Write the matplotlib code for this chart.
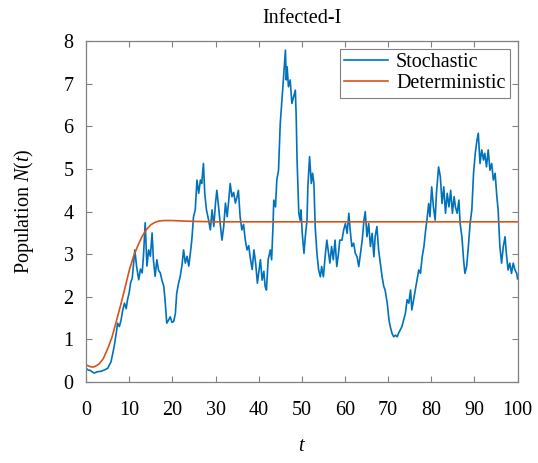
import matplotlib.pyplot as plt

# stochastic path
t_stoch = [0.0, 0.5, 1.0, 1.5, 1.9, 2.6, 3.4, 4.2, 5.0, 5.8, 6.5, 7.0, 7.3, 7.7, 8.1, 8.5, 8.9, 9.3,
           9.6, 10.0, 10.3, 10.7, 11.1, 11.3, 11.7, 12.2, 12.6, 13.0, 13.3, 13.7, 14.1, 14.5, 14.9,
           15.3, 15.6, 16.0, 16.4, 16.8, 17.2, 17.6, 18.0, 18.3, 18.7, 19.1, 19.5, 19.9, 20.3, 20.7,
           21.0, 21.4, 21.8, 22.2, 22.6, 23.0, 23.4, 23.8, 24.2, 24.5, 24.9, 25.3, 25.7, 26.1, 26.5,
           26.8, 27.2, 27.5, 27.9, 28.4, 28.8, 29.2, 29.6, 30.0, 30.3, 30.7, 31.1, 31.5, 31.9, 32.3,
           32.7, 33.0, 33.4, 33.8, 34.2, 34.6, 35.0, 35.3, 35.7, 36.1, 36.5, 36.9, 37.3, 37.7, 38.0,
           38.5, 38.9, 39.3, 39.7, 40.0, 40.4, 40.8, 41.2, 41.5, 41.8, 42.2, 42.7, 43.0, 43.3, 43.5,
           43.9, 44.2, 44.6, 45.0, 45.4, 45.8, 46.2, 46.4, 46.6, 46.9, 47.3, 47.7, 48.1, 48.5, 48.7,
           48.9, 49.3, 49.6, 49.8, 50.1, 50.5, 50.8, 51.2, 51.4, 51.8, 52.2, 52.5, 52.8, 53.1, 53.5,
           53.9, 54.3, 54.6, 55.0, 55.4, 55.8, 56.2, 56.5, 56.9, 57.3, 57.7, 58.1, 58.5, 58.8, 59.3,
           59.7, 60.1, 60.5, 60.9, 61.2, 61.6, 62.0, 62.4, 62.8, 63.2, 63.6, 64.0, 64.4, 64.7, 65.1,
           65.5, 65.9, 66.3, 66.7, 67.0, 67.4, 67.8, 68.2, 68.6, 69.0, 69.3, 69.8, 70.2, 70.5, 70.9,
           71.3, 71.7, 72.1, 72.4, 72.8, 73.2, 73.6, 74.0, 74.4, 74.8, 75.2, 75.5, 75.9, 76.3, 76.7,
           77.1, 77.5, 77.9, 78.3, 78.7, 79.0, 79.4, 79.7, 80.1, 80.5, 80.9, 81.2, 81.7, 82.1, 82.5,
           82.9, 83.3, 83.7, 84.1, 84.5, 84.9, 85.3, 85.6, 86.0, 86.4, 86.7, 87.1, 87.5, 87.8, 88.2,
           88.6, 89.0, 89.4, 89.8, 90.2, 90.6, 90.9, 91.3, 91.7, 92.1, 92.4, 92.8, 93.2, 93.6, 94.0,
           94.4, 94.8, 95.2, 95.5, 95.9, 96.3, 96.7, 97.1, 97.4, 97.8, 98.2, 98.6, 99.0, 99.4, 99.8,
           100.0]
n_stoch = [0.32, 0.28, 0.27, 0.23, 0.21, 0.24, 0.25, 0.28, 0.32, 0.48, 0.83, 1.15, 1.38, 1.30, 1.45,
           1.69, 1.85, 1.72, 1.93, 2.10, 2.32, 2.44, 2.87, 3.10, 2.72, 2.40, 2.65, 2.56, 2.95, 3.74,
           2.72, 3.10, 2.95, 3.50, 2.87, 2.48, 2.87, 2.62, 2.56, 2.38, 2.25, 1.93, 1.38, 1.45, 1.53,
           1.40, 1.42, 1.61, 2.08, 2.30, 2.47, 2.72, 3.10, 2.79, 2.95, 2.72, 3.05, 3.33, 3.88, 4.04,
           4.74, 4.43, 4.74, 4.66, 5.13, 4.43, 4.04, 3.80, 3.57, 4.04, 3.65, 4.20, 4.50, 4.12, 3.70,
           3.33, 3.65, 4.20, 3.88, 4.20, 4.66, 4.35, 4.45, 4.20, 4.35, 4.50, 3.88, 3.57, 3.70, 3.33,
           3.10, 3.20, 2.95, 2.64, 3.10, 2.79, 2.32, 2.55, 2.87, 2.39, 2.60, 2.24, 2.16, 2.87, 3.10,
           2.87, 3.60, 4.27, 4.11, 4.74, 4.97, 6.07, 6.62, 7.20, 7.79, 7.09, 7.40, 6.93, 7.09, 6.54,
           6.70, 6.85, 6.23, 5.21, 3.96, 3.80, 4.04, 3.49, 3.02, 3.41, 3.80, 4.58, 5.29, 4.66, 4.90,
           4.66, 3.65, 3.02, 2.63, 2.47, 2.71, 2.47, 2.94, 3.33, 3.02, 2.79, 3.18, 2.87, 3.33, 2.71,
           3.02, 3.33, 3.33, 3.57, 3.72, 3.49, 3.96, 3.57, 3.18, 3.26, 3.02, 2.94, 2.71, 3.02, 3.33,
           3.80, 4.00, 3.41, 3.72, 3.18, 3.49, 2.94, 3.41, 3.65, 3.10, 2.79, 2.47, 2.24, 2.16, 1.85,
           1.46, 1.30, 1.14, 1.06, 1.10, 1.06, 1.14, 1.22, 1.30, 1.46, 1.61, 1.93, 1.85, 2.16, 1.69,
           1.93, 2.16, 2.39, 2.63, 2.55, 2.94, 3.18, 3.57, 3.80, 4.19, 3.88, 4.58, 4.11, 3.80, 4.43,
           5.05, 4.82, 4.19, 4.58, 3.96, 4.43, 4.11, 4.50, 3.96, 4.35, 4.11, 3.96, 4.27, 3.72, 3.41,
           2.86, 2.55, 2.71, 3.18, 3.72, 4.04, 4.90, 5.37, 5.68, 5.84, 5.13, 5.45, 5.21, 5.37, 5.05,
           5.45, 4.97, 5.13, 4.74, 4.90, 4.35, 4.04, 3.18, 2.79, 3.18, 3.41, 3.02, 2.63, 2.79, 2.55,
           2.79, 2.63, 2.55, 2.42]

# deterministic solution
t_det = [0, 1, 1.5, 2, 3, 4, 5, 6, 7, 8, 9, 10, 11, 12, 13, 14, 15, 16, 17, 18, 20, 22, 25, 30, 100]
n_det = [0.40, 0.36, 0.35, 0.36, 0.42, 0.55, 0.78, 1.05, 1.42, 1.80, 2.20, 2.62, 2.95, 3.20, 3.42,
         3.58, 3.69, 3.75, 3.78, 3.79, 3.79, 3.78, 3.77, 3.76, 3.76]

plt.rcParams['font.family'] = ['Liberation Serif', 'DejaVu Serif']
plt.rcParams['mathtext.fontset'] = 'custom'
plt.rcParams['mathtext.it'] = 'Liberation Serif:italic'
plt.rcParams['mathtext.rm'] = 'Liberation Serif'

fig = plt.figure(figsize=(5.38, 4.63), dpi=100)
ax = fig.add_axes([0.16, 0.175, 0.802, 0.736])

ax.plot(t_stoch, n_stoch, color='#0072BD', lw=1.2, label='Stochastic')
ax.plot(t_det, n_det, color='#D95319', lw=1.2, label='Deterministic')

ax.set_xlim(0, 100)
ax.set_ylim(0, 8)
ax.set_xticks(range(0, 101, 10))
ax.set_yticks(range(0, 9))
ax.tick_params(direction='in', length=4, width=0.8, color='#808080', labelsize=14.5,
               top=True, right=True)
ax.tick_params(axis='x', pad=14)
ax.tick_params(axis='y', pad=9)
for s in ax.spines.values():
    s.set_color('#808080')
    s.set_linewidth(0.9)

ax.set_title('Infected-I', fontsize=14.5, pad=13)
ax.set_xlabel('$t$', fontsize=14.5, labelpad=12)
ax.set_ylabel('Population $N(t)$', fontsize=14.5, labelpad=20)

leg = ax.legend(loc='upper right', fontsize=14.5, fancybox=False, framealpha=1,
                borderpad=0.2, labelspacing=0.1, handlelength=2.2, handletextpad=0.4,
                borderaxespad=0.4)
leg.get_frame().set_edgecolor('#808080')
leg.get_frame().set_linewidth(0.8)

fig.savefig('out.png', dpi=100)
